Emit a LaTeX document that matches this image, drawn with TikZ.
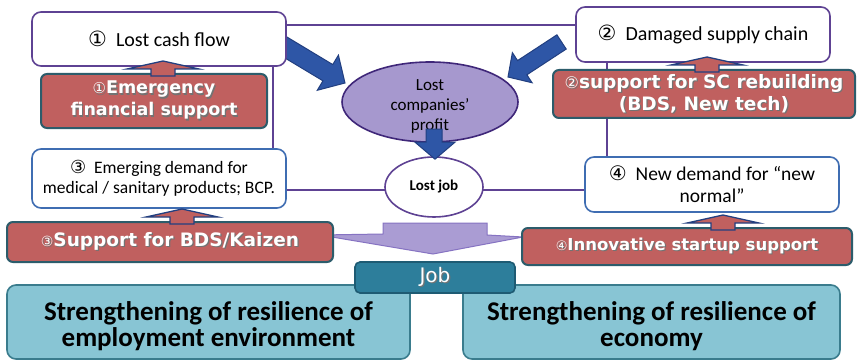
\documentclass[tikz,border=0pt]{standalone}
\usepackage{fontspec}
\setmainfont{Carlito}
\newfontfamily\circfont{DejaVu Sans}
\newfontfamily\supfont{DejaVu Sans}
\usetikzlibrary{shapes.geometric,calc}

\definecolor{lineP}{HTML}{5E4293}
\definecolor{lineB}{HTML}{3F6DB2}
\definecolor{supFill}{HTML}{C0605F}
\definecolor{supEdge}{HTML}{2C5C6B}
\definecolor{navy}{HTML}{2E56A6}
\definecolor{navyEdge}{HTML}{223F80}
\definecolor{lossFill}{HTML}{A698CE}
\definecolor{lossEdge}{HTML}{3F2779}
\definecolor{chevFill}{HTML}{AA9CD3}
\definecolor{chevEdge}{HTML}{8673C2}
\definecolor{jobFill}{HTML}{2D7E9B}
\definecolor{jobEdge}{HTML}{1E5B73}
\definecolor{resFill}{HTML}{88C5D4}
\definecolor{resEdge}{HTML}{3A7C8D}

% text with a soft dark drop shadow
\newcommand\shd[1]{\makebox[0pt][l]{\hspace{1.2pt}\raisebox{-1.2pt}{\color{black!55}#1}}#1}

\pgfdeclarelayer{paper}
\pgfdeclarelayer{back}
\pgfsetlayers{paper,back,main}

\tikzset{
  liftarrow/.pic={
    \draw[fill=supFill, draw=navyEdge, line width=1.3pt, line join=miter]
      (-12,3) -- (-12,-4) -- (-36,-4) -- (0,-12) -- (36,-4) -- (12,-4) -- (12,3) -- cycle;
  }
}

\begin{document}
\begin{tikzpicture}[x=1pt,y=-1pt,
  wh/.style 2 args={minimum width=#1pt, minimum height=#2pt},
  issue/.style={draw=lineP, line width=1.6pt, fill=white, rounded corners=9pt,
    inner sep=0pt, align=center, font=\fontsize{20}{23}\selectfont},
  demand/.style={issue, draw=lineB, font=\fontsize{17.5}{20}\selectfont},
  support/.style={draw=supEdge, line width=2pt, fill=supFill, rounded corners=6pt,
    inner sep=0pt, align=center, text=white,
    font=\supfont\bfseries\fontsize{17.5}{22}\selectfont},
  link/.style={draw=lineP, line width=1.5pt},
  bigarrow/.style={fill=navy, draw=navyEdge, line width=1pt, line join=miter},
  res/.style={draw=resEdge, line width=1.6pt, fill=resFill, rounded corners=9pt, inner sep=0pt},
  restext/.style={align=center, inner sep=0pt, font=\bfseries\fontsize{27}{26}\selectfont},
]
\useasboundingbox (0,0) rectangle (863,361);
\begin{pgfonlayer}{paper}
  \fill[white] (0,0) rectangle (863,361);
\end{pgfonlayer}

% problem boxes
\node[issue, wh={254}{54}] (c1) at (159,39)
  {{\circfont\fontsize{21}{21}\selectfont ①}\ \ Lost cash flow};
\node[issue, wh={254}{55}] (c2) at (703,34.5)
  {{\circfont\fontsize{21}{21}\selectfont ②}\ \ Damaged supply chain};
\node[demand, wh={254}{59}] (c3) at (159,178.5)
  {{\circfont\fontsize{18}{18}\selectfont ③}\ \ Emerging demand for\\medical / sanitary products; BCP.};
\node[demand, wh={254}{55}, font=\fontsize{19.5}{22}\selectfont] (c4) at (712,184.5)
  {{\circfont\fontsize{20}{20}\selectfont ④}\ \ New demand for “new\\normal”};

% support boxes
\node[support, wh={226}{54}] (s1) at (154,101)
  {\shd{{\mdseries\fontsize{15}{15}\selectfont ①}Emergency}\\\shd{financial support}};
\node[support, wh={302}{48}, font=\supfont\bfseries\fontsize{18.5}{22}\selectfont] (s2) at (704,94)
  {\shd{{\mdseries\fontsize{16}{16}\selectfont ②}support for SC rebuilding}\\\shd{(BDS, New tech)}};
\node[support, wh={326}{40}, font=\supfont\bfseries\fontsize{18.5}{22}\selectfont] (s3) at (170,242)
  {\shd{{\mdseries\fontsize{14}{14}\selectfont ③}Support for BDS/Kaizen}};
\node[support, wh={330}{37}, font=\supfont\bfseries\fontsize{16.5}{20}\selectfont] (s4) at (687,246.5)
  {\shd{{\mdseries\fontsize{13}{13}\selectfont ④}Innovative startup support}};

% small lift arrows from support to problem
\pic at ($(s1.north)+(9,0)$) {liftarrow};
\pic at ($(s2.north)+(3,0)$) {liftarrow};
\pic at ($(s3.north)+(12,0)$) {liftarrow};
\pic at ($(s4.north)+(36,0)$) {liftarrow};

% centre: lost profit and lost jobs
\node[ellipse, draw=lossEdge, fill=lossFill, line width=1.6pt, inner sep=0pt,
  minimum width=176pt, minimum height=80pt] (profit) at (430,102) {};
\node[align=center, inner sep=0pt, font=\fontsize{17}{20}\selectfont] (profitt) at (430,106)
  {Lost\\companies’\\profit};
\node[ellipse, draw=lineP, fill=white, line width=1.6pt, inner sep=0pt,
  minimum width=98pt, minimum height=60pt, font=\bfseries\fontsize{15}{18}\selectfont]
  (lostjob) at (434,187) {Lost job};

% arrow from lost profit down to lost jobs
\begin{scope}[shift={(lostjob.north)}]
  \filldraw[bigarrow] (-8,-27) -- (8,-27) -- (8,-14) -- (21,-14) -- (1,3) -- (-19,-14) -- (-8,-14) -- cycle;
\end{scope}

% resilience boxes
\node[res, wh={403}{74}] (b1) at (208.5,322) {};
\node[restext] (b1t) at (208.5,326) {Strengthening of resilience of\\employment environment};
\node[res, wh={377}{74}] (b2) at (651.5,322) {};
\node[restext] (b2t) at (651.5,326) {Strengthening of resilience of\\economy};
\node[draw=jobEdge, fill=jobFill, line width=1.6pt, rounded corners=5pt, wh={160}{31},
  inner sep=0pt, text=white, font=\supfont\fontsize{20}{22}\selectfont] (job) at (435,277.5) {\shd{Job}};

\coordinate (hTop) at (0,25);
\coordinate (hMid) at (0,190);
\coordinate (vL) at (273,0);
\coordinate (vR) at (607,0);
\coordinate (tipL) at (345,83);
\coordinate (tipR) at (508,77);

\begin{pgfonlayer}{back}
  % thin links
  \draw[link] (c1.east |- hTop) -- (c2.west |- hTop);
  \draw[link] (c1.south -| vL) -- (c3.north -| vL);
  \draw[link] (c2.south -| vR) -- (c4.north -| vR);
  \draw[link] (c3.east |- hMid) -- (lostjob.center |- hMid) -- (c4.west |- hMid);
  % heavy arrows into the lost profit
  \begin{scope}[shift={(tipL)}, rotate=-31]
    \filldraw[bigarrow] (0,0) -- (-20,-20.5) -- (-20,-9.5) -- (-80,-9.5) -- (-80,9.5) -- (-20,9.5) -- (-20,20.5) -- cycle;
  \end{scope}
  \begin{scope}[shift={(tipR)}, rotate=-146.8]
    \filldraw[bigarrow] (0,0) -- (-17,-18) -- (-17,-8.5) -- (-64,-8.5) -- (-64,8.5) -- (-17,8.5) -- (-17,18) -- cycle;
  \end{scope}
  % wide chevron from lost jobs to the job box
  \filldraw[fill=chevFill, draw=chevEdge, line width=1pt, line join=miter]
    (383,223) -- (487,223) -- (487,235) -- (523,237) -- (433,254) -- (320,235) -- (383,234) -- cycle;
\end{pgfonlayer}
\end{tikzpicture}
\end{document}
